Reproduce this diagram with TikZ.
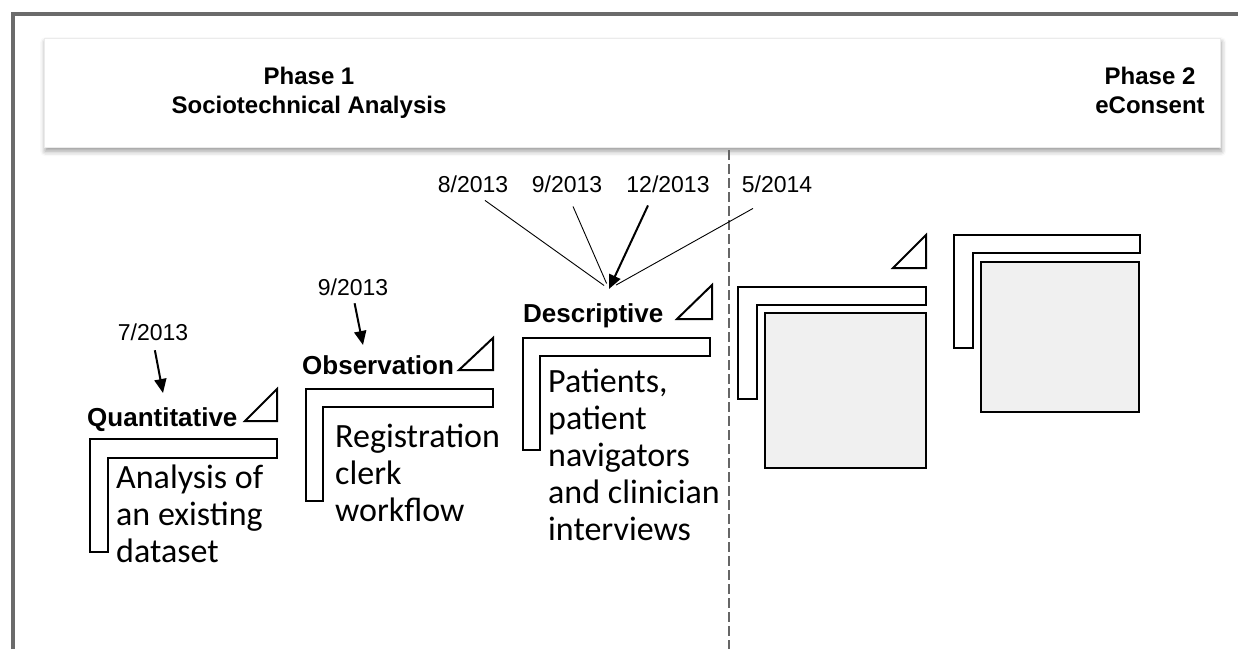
\documentclass[tikz,border=0pt]{standalone}
\usepackage{fontspec}
\setmainfont{Liberation Sans}
\newfontfamily\calibri{Carlito}
\usetikzlibrary{arrows.meta,shadows.blur,calc}

\begin{document}
\begin{tikzpicture}[x=1pt,y=-1pt,
	frame/.style={draw=black!58,line width=4pt},
	hdrbox/.style={fill=white,draw=black!8,inner sep=0pt,anchor=north west,
		blur shadow={shadow xshift=1pt,shadow yshift=-4pt,shadow blur radius=5pt,shadow opacity=40}},
	hdrtext/.style={font=\fontsize{24}{29}\selectfont\bfseries,align=center,inner sep=0pt,anchor=base},
	datum/.style={font=\fontsize{23}{26}\selectfont,inner sep=0pt,anchor=base},
	method/.style={font=\fontsize{26}{30}\selectfont\bfseries,inner sep=0pt,anchor=base west},
	body/.style={font=\calibri\fontsize{34}{37}\selectfont,align=left,inner sep=0pt,anchor=base west},
	bracket/.style={draw=black,line width=2.5pt,fill=white},
	corner/.style={draw=black,line width=2pt,fill=white},
	panel/.style={draw=black,line width=2.5pt,fill=black!6},
	fat/.style={line width=2pt,-{Triangle[length=14pt,width=12pt]}},
	thin/.style={line width=0.9pt},
	divider/.style={draw=black!60,line width=1.5pt,dash pattern=on 10pt off 4pt}
	]
	\useasboundingbox (0,0) rectangle (1238,649);
	\draw[frame] (13,649) -- (13,14) -- (1240,14);
	\node[hdrbox,minimum width=1176pt,minimum height=109pt] (hdr) at (44,38) {};
	\node[hdrtext] (ph1) at (309,113) {Phase 1\\Sociotechnical Analysis};
	\node[hdrtext] (ph2) at (1150,113) {Phase 2\\eConsent};
	\draw[divider] (729,150) -- (729,649);

	\node[datum] (d7) at (153,340) {7/2013};
	\node[method] (quant) at (87,426) {Quantitative};
	\coordinate (quant-tip) at (163,393);
	\draw[fat,shorten <=10pt] (d7.south) -- (quant-tip);
	\draw[corner] (245,421) -- (277,421) -- (277,389) -- cycle;
	\draw[bracket] (90,439) -- (277,439) -- (277,458) -- (108,458) -- (108,552) -- (90,552) -- cycle;
	\node[body] (qtext) at (116,562) {Analysis of\\an existing\\dataset};

	\node[datum] (d9a) at (353,295) {9/2013};
	\node[method] (obs) at (302,374) {Observation};
	\coordinate (obs-tip) at (363,345);
	\draw[fat,shorten <=8pt] (d9a.south) -- (obs-tip);
	\draw[corner] (459,370) -- (493,370) -- (493,338) -- cycle;
	\draw[bracket] (306,389) -- (493,389) -- (493,407) -- (323,407) -- (323,501) -- (306,501) -- cycle;
	\node[body] (otext) at (335,521) {Registration\\clerk\\workflow};

	\node[datum] (d8) at (473,192) {8/2013};
	\node[datum] (d9b) at (567,192) {9/2013};
	\node[datum] (d12) at (668,192) {12/2013};
	\node[datum] (d5) at (777,192) {5/2014};
	\node[method] (desc) at (523,322) {Descriptive};
	\coordinate (desc-tip) at (609,289);
	\draw[thin,shorten >=6pt] ($(d8.south)+(12,8)$) -- (desc-tip);
	\draw[thin,shorten >=6pt] ($(d9b.south)+(6,14)$) -- (desc-tip);
	\draw[thin,shorten >=8pt] ($(d5.south)+(-24,16)$) -- (desc-tip);
	\draw[fat] ($(d12.south)+(-20,13)$) -- (desc-tip);
	\draw[corner] (677,319) -- (712,319) -- (712,285) -- cycle;
	\draw[bracket] (523,338) -- (710,338) -- (710,356) -- (540,356) -- (540,450) -- (523,450) -- cycle;
	\node[body] (dtext) at (548,540) {Patients,\\patient\\navigators\\and clinician\\interviews};

	\draw[corner] (893,268) -- (926,268) -- (926,235) -- cycle;
	\draw[bracket] (738,287) -- (926,287) -- (926,305) -- (757,305) -- (757,399) -- (738,399) -- cycle;
	\draw[panel] (765,313) rectangle (926,468);
	\draw[bracket] (954,235) -- (1140,235) -- (1140,253) -- (973,253) -- (973,348) -- (954,348) -- cycle;
	\draw[panel] (981,262) rectangle (1139,412);
\end{tikzpicture}
\end{document}
